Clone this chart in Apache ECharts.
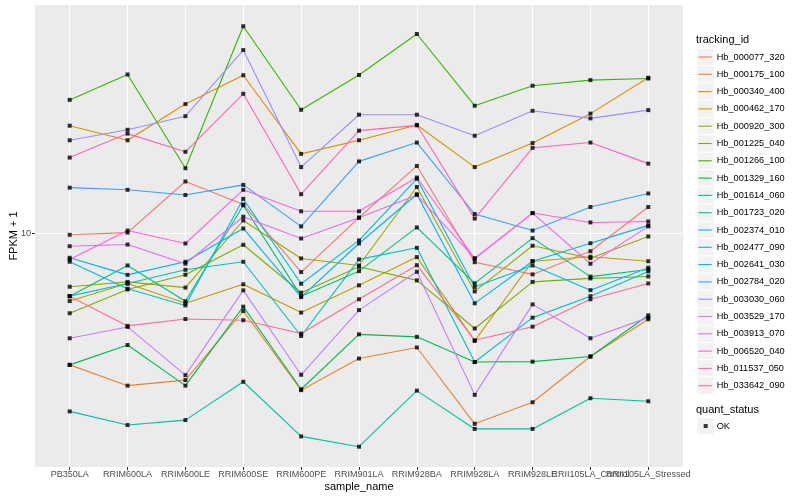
<!DOCTYPE html>
<html><head><meta charset="utf-8">
<script src="https://cdn.jsdelivr.net/npm/echarts@6/dist/echarts.min.js"></script>
<style>html,body{margin:0;padding:0;background:#fff}#c{width:800px;height:500px}</style>
</head><body><div id="c"></div>
<script>
const categories = ['PB350LA','RRIM600LA','RRIM600LE','RRIM600SE','RRIM600PE','RRIM901LA','RRIM928BA','RRIM928LA','RRIM928LE','RRII105LA_Control','RRII105LA_Stressed'];
const trackingIds = ['Hb_000077_320','Hb_000175_100','Hb_000340_400','Hb_000462_170','Hb_000920_300','Hb_001225_040','Hb_001266_100','Hb_001329_160','Hb_001614_060','Hb_001723_020','Hb_002374_010','Hb_002477_090','Hb_002641_030','Hb_002784_020','Hb_003030_060','Hb_003529_170','Hb_003913_070','Hb_006520_040','Hb_011537_050','Hb_033642_090'];
const colors = ['#F8766D','#EA8331','#D89000','#C09B00','#A3A500','#7CAE00','#39B600','#00BB4E','#00BF7D','#00C1A3','#00BFC4','#00BAE0','#00B0F6','#35A2FF','#9590FF','#C77CFF','#E76BF3','#FA62DB','#FF62BC','#FF6C91'];
const quantStatus = ['OK'];
const yTickLabels = ['10'];

// FPKM + 1 values per gene, in category order
const s000077_320 = [9.90, 10.1, 16.2, 13.1, 7.02, 11.6, 18.7, 7.69, 6.87, 8.51, 12.8];
const s000175_100 = [2.98, 2.46, 2.59, 4.90, 2.36, 3.16, 3.50, 1.73, 2.11, 3.22, 4.54];
const s000340_400 = [27.1, 23.7, 33.1, 43.2, 20.9, 23.7, 27.3, 18.5, 23.1, 30.3, 42.2];
const s000462_170 = [5.37, 6.32, 5.26, 6.27, 4.83, 6.21, 8.06, 3.72, 7.76, 8.09, 7.76];
const s000920_300 = [6.13, 6.41, 6.08, 11.3, 7.96, 7.46, 15.4, 5.87, 8.95, 7.98, 9.75];
const s001225_040 = [4.80, 5.98, 6.85, 9.03, 5.80, 7.37, 6.50, 4.17, 6.41, 6.62, 6.74];
const s001266_100 = [34.4, 43.5, 18.3, 67.9, 31.4, 43.3, 63.2, 32.6, 39.2, 41.3, 41.9];
const s001329_160 = [2.98, 3.58, 2.46, 5.10, 2.38, 3.95, 3.86, 3.06, 3.07, 3.22, 4.71];
const s001614_060 = [5.62, 7.46, 5.36, 13.0, 5.62, 7.08, 10.6, 6.32, 9.60, 6.73, 7.19];
const s001723_020 = [1.94, 1.71, 1.79, 2.55, 1.54, 1.40, 2.35, 1.65, 1.65, 2.19, 2.13];
const s002374_010 = [5.62, 6.32, 7.17, 7.72, 3.89, 7.89, 8.78, 3.06, 4.61, 5.62, 7.06];
const s002477_090 = [7.72, 6.02, 5.16, 13.8, 6.30, 9.40, 16.6, 6.11, 7.46, 5.94, 7.31];
const s002641_030 = [8.01, 6.84, 7.72, 10.5, 5.57, 9.14, 14.4, 5.26, 7.76, 9.16, 10.8];
const s002784_020 = [15.3, 15.0, 14.3, 15.7, 10.7, 19.5, 23.2, 12.0, 10.3, 12.8, 14.5];
const s003030_060 = [23.7, 26.1, 29.6, 54.5, 18.5, 30.0, 30.0, 24.7, 31.1, 29.0, 31.3];
const s003529_170 = [3.81, 4.23, 2.71, 5.93, 2.72, 4.94, 7.04, 2.26, 5.21, 3.81, 4.61];
const s003913_070 = [8.91, 9.05, 7.58, 11.7, 9.57, 11.6, 14.3, 7.96, 12.1, 7.58, 10.7];
const s006520_040 = [7.89, 10.3, 9.14, 15.0, 12.3, 12.3, 16.8, 7.96, 12.1, 11.1, 11.2];
const s011537_050 = [20.2, 25.2, 21.3, 36.4, 14.4, 25.9, 27.2, 11.5, 22.1, 23.2, 19.1];
const s033642_090 = [5.62, 4.27, 4.55, 4.50, 3.98, 5.46, 7.48, 3.74, 4.24, 5.46, 6.32];

const allValues = [s000077_320, s000175_100, s000340_400, s000462_170, s000920_300, s001225_040, s001266_100, s001329_160, s001614_060, s001723_020, s002374_010, s002477_090, s002641_030, s002784_020, s003030_060, s003529_170, s003913_070, s006520_040, s011537_050, s033642_090];

const FONT = '"Liberation Sans", Arial, Helvetica, sans-serif';
const yMin = 1.161, yMax = 82.6;

const series = trackingIds.map((id, i) => ({
  name: id, type: 'line', xAxisIndex: 1, yAxisIndex: 1,
  data: allValues[i], symbol: 'none', clip: false,
  lineStyle: { width: 1.1, color: colors[i] }, itemStyle: { color: colors[i] },
  emphasis: { disabled: true }, z: 2
}));
const points = [];
allValues.forEach(arr => arr.forEach((v, j) => points.push([categories[j], v])));
series.push({
  name: quantStatus[0], type: 'scatter', xAxisIndex: 1, yAxisIndex: 1,
  data: points, symbol: 'rect', symbolSize: 4, clip: false,
  itemStyle: { color: '#000' }, emphasis: { disabled: true }, z: 5
});

const keyTop = 48.35, keyStep = 17.3;
const graphics = trackingIds.map((id, i) => ({
  type: 'rect', z: 0,
  shape: { x: 697, y: keyTop + i * keyStep, width: 17, height: keyStep },
  style: { fill: '#F2F2F2', stroke: '#FFFFFF', lineWidth: 1 }
}));
graphics.push({ type: 'rect', z: 0, shape: { x: 697, y: 417.4, width: 17, height: keyStep },
  style: { fill: '#F2F2F2', stroke: '#FFFFFF', lineWidth: 1 } });

const chart = echarts.init(document.getElementById('c'));
chart.setOption({
  animation: false,
  backgroundColor: '#FFFFFF',
  textStyle: { fontFamily: FONT },
  title: [
    { text: 'tracking_id', left: 696, top: 34, padding: 0, textStyle: { fontSize: 11, fontWeight: 'normal', color: '#000', fontFamily: FONT } },
    { text: 'quant_status', left: 696, top: 404, padding: 0, textStyle: { fontSize: 11, fontWeight: 'normal', color: '#000', fontFamily: FONT } }
  ],
  grid: [
    { left: 35, top: 5, width: 648, height: 462, show: true, backgroundColor: '#EBEBEB', borderWidth: 0, containLabel: false, outerBoundsMode: 'none' },
    { left: 69.7, top: 5, width: 578.6, height: 462, show: false, containLabel: false, outerBoundsMode: 'none' }
  ],
  xAxis: [
    { gridIndex: 0, type: 'value', show: false, min: 0, max: 1 },
    { gridIndex: 1, type: 'category', data: categories, boundaryGap: false,
      axisLine: { show: false },
      axisTick: { show: true, length: 3, lineStyle: { color: '#333333' } },
      axisLabel: { interval: 0, color: '#4D4D4D', fontSize: 9, margin: 3, fontFamily: FONT },
      splitLine: { show: true, lineStyle: { color: '#FFFFFF', width: 1.1 } },
      name: 'sample_name', nameLocation: 'middle', nameGap: 14, nameMoveOverlap: false,
      nameTextStyle: { color: '#000', fontSize: 11, fontFamily: FONT } }
  ],
  yAxis: [
    { gridIndex: 0, type: 'log', logBase: 10, min: yMin, max: yMax,
      axisLine: { show: false },
      axisTick: { show: true, length: 3, lineStyle: { color: '#333333' } },
      axisLabel: { color: '#4D4D4D', fontSize: 9, margin: 4, fontFamily: FONT, showMinLabel: false, showMaxLabel: false,
        formatter: v => (Math.abs(v - 10) < 1e-6 ? yTickLabels[0] : '') },
      splitLine: { show: true, showMinLine: false, showMaxLine: false, lineStyle: { color: '#FFFFFF', width: 1.1 } },
      name: 'FPKM + 1', nameLocation: 'middle', nameGap: 16, nameMoveOverlap: false,
      nameTextStyle: { color: '#000', fontSize: 11, fontFamily: FONT } },
    { gridIndex: 1, type: 'log', logBase: 10, min: yMin, max: yMax, show: false, splitLine: { show: false } }
  ],
  legend: [
    { data: trackingIds, orient: 'vertical', left: 698.3, top: keyTop, itemWidth: 13.4, itemHeight: 1.1, itemGap: 0, padding: 0,
      icon: 'rect', selectedMode: false,
      textStyle: { fontSize: 9.2, color: '#000', fontFamily: FONT, lineHeight: keyStep, height: keyStep, verticalAlign: 'middle' } },
    { data: quantStatus, orient: 'vertical', left: 703.7, top: 417.4, itemWidth: 4, itemHeight: 4, itemGap: 0, padding: 0,
      icon: 'rect', selectedMode: false,
      textStyle: { fontSize: 9.2, color: '#000', fontFamily: FONT, lineHeight: keyStep, height: keyStep, verticalAlign: 'middle', padding: [0, 0, 0, 4] } }
  ],
  graphic: graphics,
  series: series
});
</script>
</body></html>
